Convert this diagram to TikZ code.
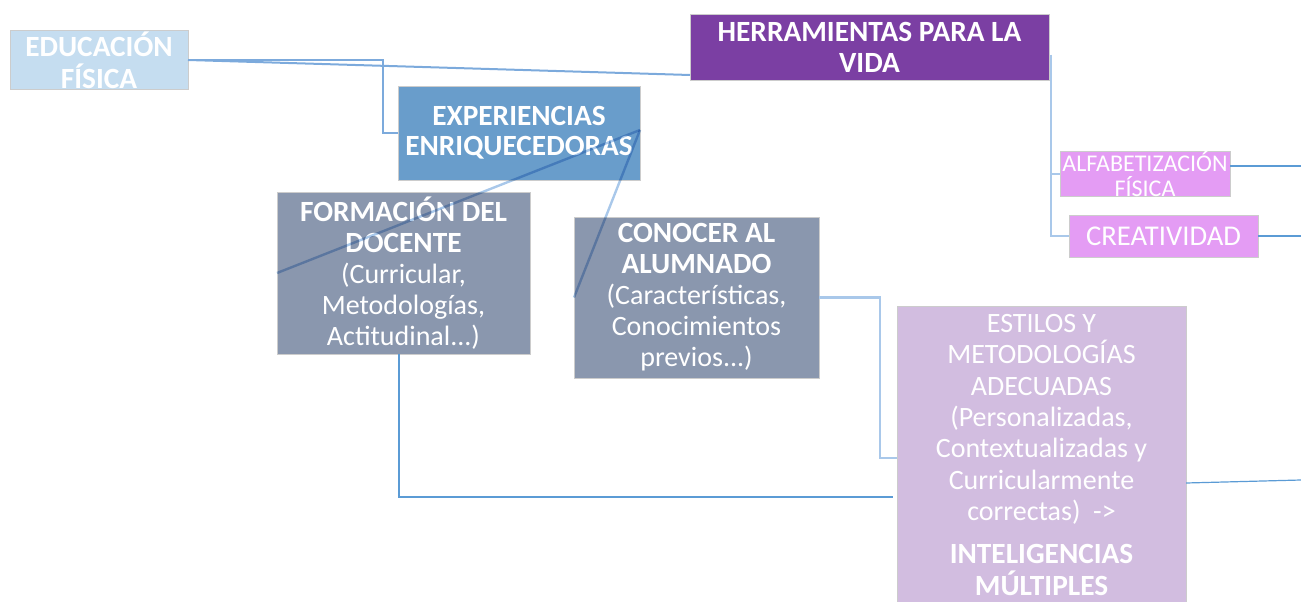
\documentclass[tikz,border=0pt]{standalone}
\usepackage{fontspec}
\setmainfont{Carlito}

\definecolor{eduBlue}{HTML}{C5DDF0}
\definecolor{vidaPurple}{HTML}{7B3FA3}
\definecolor{expBlue}{HTML}{699DCB}
\definecolor{boxGray}{HTML}{8A97AE}
\definecolor{pinkBox}{HTML}{E49CF4}
\definecolor{lilacBox}{HTML}{D2BDE0}
\definecolor{linkLight}{HTML}{A9C8EA}
\definecolor{linkMid}{HTML}{7CAADC}
\definecolor{linkDark}{HTML}{5B9BD5}

\newcommand{\headtxt}[1]{{\fontsize{22}{23.25}\selectfont\bfseries #1}}

\tikzset{
  card/.style={draw=white!80!black, line width=0.4pt, inner sep=0pt, outer sep=0pt,
    text=white, align=center, font=\fontsize{21}{23.25}\selectfont},
  linklight/.style={draw=linkLight, line width=1.8pt},
  linkmid/.style={draw=linkMid, line width=1.5pt},
  linkthin/.style={draw=linkDark, line width=0.9pt},
}

\begin{document}
\begin{tikzpicture}[x=0.75pt,y=0.75pt,yscale=-1,xscale=1]
\useasboundingbox (0,0) rectangle (1301,602);

%Shape: Rectangle [id:edu]
\node[card, fill=eduBlue, minimum width=133.5pt, minimum height=44.25pt,
  font=\fontsize{22}{24}\selectfont\bfseries] (edu) at (99,60) {EDUCACIÓN\\FÍSICA};
%Shape: Rectangle [id:herr]
\node[card, fill=vidaPurple, minimum width=269.25pt, minimum height=49.5pt,
  font=\fontsize{22}{23.25}\selectfont\bfseries] (herr) at (869.5,47) {HERRAMIENTAS PARA LA\\VIDA};
%Shape: Rectangle [id:exp]
\node[card, fill=expBlue, minimum width=181.5pt, minimum height=70.5pt,
  font=\fontsize{22}{22.5}\selectfont\bfseries] (exp) at (519,133) {EXPERIENCIAS\\ENRIQUECEDORAS};
%Shape: Rectangle [id:form]
\node[card, fill=boxGray, minimum width=189.75pt, minimum height=121.5pt] (form) at (403.5,273)
  {\headtxt{FORMACIÓN DEL}\\\headtxt{DOCENTE}\\(Curricular,\\Metodologías,\\Actitudinal...)};
%Shape: Rectangle [id:con]
\node[card, fill=boxGray, minimum width=183.75pt, minimum height=120.75pt] (con) at (696.5,297.5)
  {\headtxt{CONOCER AL}\\\headtxt{ALUMNADO}\\(Características,\\Conocimientos\\previos...)};
%Shape: Rectangle [id:alfa]
\node[card, fill=pinkBox, minimum width=127.5pt, minimum height=31.5pt,
  font=\fontsize{18}{18.75}\selectfont] (alfa) at (1145,174) {ALFABETIZACIÓN\\FÍSICA};
%Shape: Rectangle [id:crea]
\node[card, fill=pinkBox, minimum width=141.75pt, minimum height=31.5pt,
  font=\fontsize{21.5}{23}\selectfont] (crea) at (1163.5,236) {CREATIVIDAD};
%Shape: Rectangle [id:est]
\node[card, fill=lilacBox, minimum width=216.75pt, minimum height=223.5pt,
  font=\fontsize{21}{23.5}\selectfont] (est) at (1041.5,455)
  {ESTILOS Y\\METODOLOGÍAS\\ADECUADAS\\(Personalizadas,\\Contextualizadas y\\Curricularmente\\correctas)\ \ ->\\[9pt]
   \headtxt{INTELIGENCIAS}\\\headtxt{MÚLTIPLES}};

%Free ends at the right margin
\coordinate (alfaout) at (1301,166);
\coordinate (creaout) at (1301,236);
\coordinate (estout) at (1301,480);

%Straight Lines [id:edu-exp]
\draw[linkmid] (edu.east) -| ([xshift=-11.25pt]exp.west) -- (exp.west);
%Straight Lines [id:edu-herr]
\draw[linkmid] (edu.east) -- ([yshift=-3.75pt]herr.south west);
%Straight Lines [id:exp-form]
\draw[linklight, blend mode=multiply] ([yshift=-2.25pt]exp.east) -- (form.west);
%Straight Lines [id:exp-con]
\draw[linklight, blend mode=multiply] ([yshift=-2.25pt]exp.east) -- (con.west);
%Straight Lines [id:herr-alfa]
\draw[linklight] ([xshift=1.5pt,yshift=6pt]herr.east) |- (alfa.west);
%Straight Lines [id:herr-crea]
\draw[linklight] ([xshift=1.5pt,yshift=6pt]herr.east) |- (crea.west);
%Straight Lines [id:alfa-out]
\draw[linkthin] ([yshift=-6pt]alfa.east) -- (alfaout);
%Straight Lines [id:crea-out]
\draw[linkthin] (crea.east) -- (creaout);
%Straight Lines [id:con-est]
\draw[linklight] (con.east) -| ([xshift=-12.75pt,yshift=2.25pt]est.west) -- ([yshift=2.25pt]est.west);
%Straight Lines [id:form-est]
\draw[linkthin] ([xshift=-3.4pt]form.south) |- ([xshift=-3pt,yshift=31.5pt]est.west);
%Straight Lines [id:est-out]
\draw[linkthin] ([yshift=21pt]est.east) -- (estout);

\end{tikzpicture}
\end{document}
